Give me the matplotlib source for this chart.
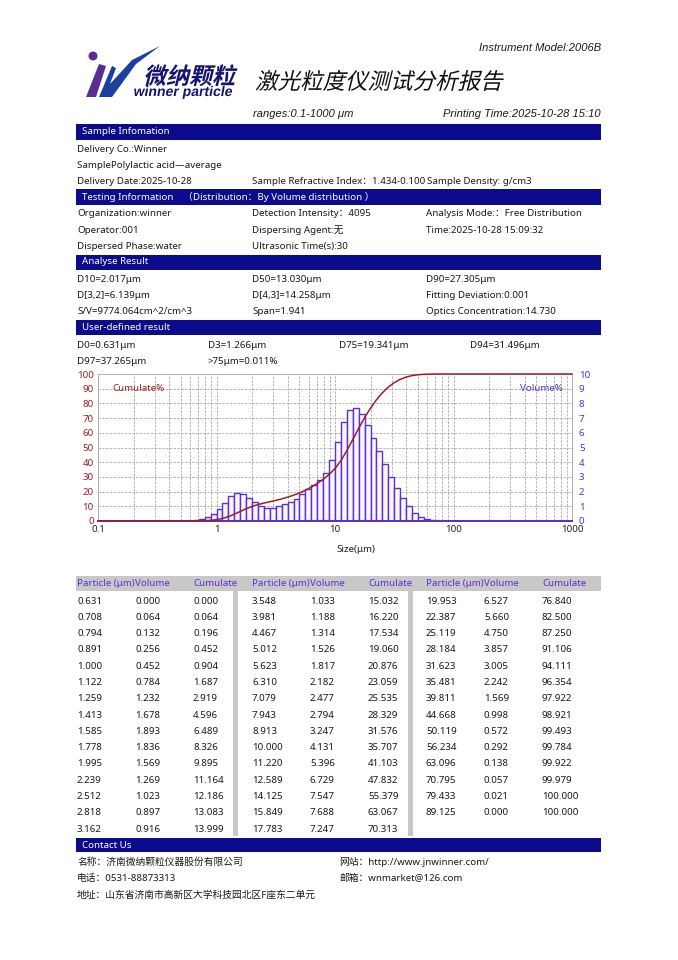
import numpy as np
import matplotlib
matplotlib.use('Agg')
import matplotlib.pyplot as plt
from matplotlib.patches import Rectangle, Polygon, Circle, PathPatch
from matplotlib.textpath import TextPath
from matplotlib.font_manager import FontProperties
from matplotlib.transforms import Affine2D
from matplotlib.ticker import MultipleLocator, LogLocator, FixedLocator, NullFormatter

# ---- data ----
sizes = [0.631, 0.708, 0.794, 0.891, 1.000, 1.122, 1.259, 1.413, 1.585, 1.778,
         1.995, 2.239, 2.512, 2.818, 3.162, 3.548, 3.981, 4.467, 5.012, 5.623,
         6.310, 7.079, 7.943, 8.913, 10.000, 11.220, 12.589, 14.125, 15.849, 17.783,
         19.953, 22.387, 25.119, 28.184, 31.623, 35.481, 39.811, 44.668, 50.119, 56.234,
         63.096, 70.795, 79.433, 89.125]
volume = [0.000, 0.064, 0.132, 0.256, 0.452, 0.784, 1.232, 1.678, 1.893, 1.836,
          1.569, 1.269, 1.023, 0.897, 0.916, 1.033, 1.188, 1.314, 1.526, 1.817,
          2.182, 2.477, 2.794, 3.247, 4.131, 5.396, 6.729, 7.547, 7.688, 7.247,
          6.527, 5.660, 4.750, 3.857, 3.005, 2.242, 1.569, 0.998, 0.572, 0.292,
          0.138, 0.057, 0.021, 0.000]
cumulate = [0.000, 0.064, 0.196, 0.452, 0.904, 1.687, 2.919, 4.596, 6.489, 8.326,
            9.895, 11.164, 12.186, 13.083, 13.999, 15.032, 16.220, 17.534, 19.060, 20.876,
            23.059, 25.535, 28.329, 31.576, 35.707, 41.103, 47.832, 55.379, 63.067, 70.313,
            76.840, 82.500, 87.250, 91.106, 94.111, 96.354, 97.922, 98.921, 99.493, 99.784,
            99.922, 99.979, 100.000, 100.000]
size_range = (0.1, 1000)
x_ticks = [0.1, 1, 10, 100, 1000]
x_tick_labels = ['0.1', '1', '10', '100', '1000']

sample_rows = [
    [('Delivery Co.:Winner', 77)],
    [('SamplePolylactic acid—average', 77)],
    [('Delivery Date:2025-10-28', 77), ('Sample Refractive Index：1.434-0.100', 252), ('Sample Density: g/cm3', 427)],
]
testing_rows = [
    [('Organization:winner', 77), ('Detection Intensity：4095', 252), ('Analysis Mode:：Free Distribution', 426)],
    [('Operator:001', 77), ('Dispersing Agent:无', 252), ('Time:2025-10-28 15:09:32', 426)],
    [('Dispersed Phase:water', 77), ('Ultrasonic Time(s):30', 252)],
]
result_rows = [
    [('D10=2.017μm', 77), ('D50=13.030μm', 252), ('D90=27.305μm', 426)],
    [('D[3,2]=6.139μm', 77), ('D[4,3]=14.258μm', 252), ('Fitting Deviation:0.001', 426)],
    [('S/V=9774.064cm^2/cm^3', 77), ('Span=1.941', 252), ('Optics Concentration:14.730', 426)],
]
user_rows = [
    [('D0=0.631μm', 77), ('D3=1.266μm', 208), ('D75=19.341μm', 339), ('D94=31.496μm', 470)],
    [('D97=37.265μm', 77), ('>75μm=0.011%', 208)],
]
contact_rows = [
    [('名称：济南微纳颗粒仪器股份有限公司', 77), ('网站：http://www.jnwinner.com/', 339)],
    [('电话：0531-88873313', 77), ('邮箱：wnmarket@126.com', 339)],
    [('地址：山东省济南市高新区大学科技园北区F座东二单元', 77)],
]

W, H = 678, 960
NAVY = '#0b0b8c'
RED = '#a01e1e'
PURPLE = '#5b2fd6'
GRID = '#a8a8a8'
FONT = ['Noto Sans', 'Noto Sans CJK SC', 'DejaVu Sans']
plt.rcParams['font.family'] = FONT
plt.rcParams['font.size'] = 7

fig = plt.figure(figsize=(W / 100, H / 100), dpi=100)
fig.patch.set_facecolor('white')


def T(x, y, s, **kw):
    kw.setdefault('va', 'center')
    kw.setdefault('color', '#1a1a1a')
    fig.text(x / W, 1 - y / H, s, **kw)


def band(y0, y1, color=NAVY, x0=76, x1=601):
    fig.patches.append(Rectangle((x0 / W, 1 - y1 / H), (x1 - x0) / W, (y1 - y0) / H,
                                 transform=fig.transFigure, color=color, lw=0, zorder=0))


def slanted(x, y, s, size, color, weight='normal', family='Noto Sans CJK SC', skew=14):
    tp = TextPath((0, 0), s, size=size, prop=FontProperties(family=family, weight=weight))
    tr = Affine2D().skew_deg(skew, 0).scale(1 / 100).translate(x / 100, (H - y) / 100) + fig.dpi_scale_trans
    fig.patches.append(PathPatch(tp, transform=tr, color=color, lw=0))


def rows(y_start, data, step=16.3):
    for i, row in enumerate(data):
        for s, x in row:
            T(x, y_start + i * step, s)


# ---- header ----
T(601, 48, 'Instrument Model:2006B', ha='right', family='Liberation Sans', style='italic', fontsize=8)
# logo marks
logo_tr = fig.dpi_scale_trans
def lp(pts):
    return [(px / 100, (H - py) / 100) for px, py in pts]
fig.patches.append(Polygon(lp([(86, 97), (99, 64), (106, 66), (96, 97)]), closed=True,
                           transform=logo_tr, color='#5a2d91', lw=0))
fig.patches.append(Circle((93 / 100, (H - 56) / 100), 0.045, transform=logo_tr, color='#5a2d91', lw=0))
fig.patches.append(Polygon(lp([(99, 97), (112, 66), (116, 68), (110, 84), (132, 60), (160, 46),
                               (136, 64), (112, 97)]), closed=True, transform=logo_tr, color='#1d3f9e', lw=0))
slanted(143, 84, '微纳颗粒', 23, '#15156e', weight='bold')
slanted(133, 96, 'winner particle', 14, '#15156e', weight='bold', family='Liberation Sans', skew=10)
slanted(255, 89, '激光粒度仪测试分析报告', 22.5, '#111111', weight='normal')
T(253, 114, 'ranges:0.1-1000 μm', family='Liberation Sans', style='italic', fontsize=8)
T(601, 114, 'Printing Time:2025-10-28 15:10', ha='right', family='Liberation Sans', style='italic', fontsize=8)

# ---- info sections ----
band(124, 140)
T(82, 132, 'Sample Infomation', color='white')
rows(149, sample_rows)
band(189, 205)
T(82, 197, 'Testing Information　（Distribution：By Volume distribution ）', color='white')
rows(214, testing_rows)
band(255, 270)
T(82, 262, 'Analyse Result', color='white')
rows(279, result_rows)
band(320, 335)
T(82, 327, 'User-defined result', color='white')
rows(345, user_rows)

# ---- chart: volume bars on the base axes (right scale), cumulate curve on the twin (left scale) ----
ax = fig.add_axes([98 / W, 1 - 521 / H, 474 / W, 147 / H])
ax2 = ax.twinx()

sz = np.array(sizes)
ax.bar(sz[:-1], volume[1:], width=np.diff(sz), align='edge',
       facecolor='#f8f6ff', edgecolor=PURPLE, linewidth=1.0, zorder=2)
ax.set_axisbelow(True)
ax.set_xscale('log')
ax.set_xlim(*size_range)
ax.set_ylim(0, 10)
ax.xaxis.set_major_locator(FixedLocator(x_ticks))
ax.set_xticklabels(x_tick_labels)
ax.xaxis.set_minor_locator(LogLocator(base=10, subs=np.arange(2, 10)))
ax.xaxis.set_minor_formatter(NullFormatter())
ax.yaxis.set_major_locator(MultipleLocator(1))
ax.grid(True, which='both', axis='x', color=GRID, linestyle=(0, (3, 1.5)), linewidth=0.6)
ax.grid(True, which='major', axis='y', color=GRID, linestyle=(0, (3, 1.5)), linewidth=0.6)
ax.yaxis.tick_right()
ax.tick_params(axis='both', which='both', length=0, labelsize=7)
ax.tick_params(axis='x', colors='#222222', pad=3)
ax.tick_params(axis='y', colors=PURPLE, pad=5)

cx = [size_range[0]] + sizes + [size_range[1]]
cy = [cumulate[0]] + cumulate + [cumulate[-1]]
ax2.plot(cx, cy, color=RED, linewidth=1.1, zorder=3, clip_on=False)
ax2.set_ylim(0, 100)
ax2.yaxis.set_major_locator(MultipleLocator(10))
ax2.yaxis.tick_left()
ax2.tick_params(axis='y', length=0, labelsize=7, colors=RED, pad=3)

for a in (ax, ax2):
    for side in ('top', 'left', 'right'):
        a.spines[side].set_color('#b0b0b0')
        a.spines[side].set_linewidth(0.6)
    a.spines['bottom'].set_color(PURPLE)
    a.spines['bottom'].set_linewidth(1.4)
ax2.text(0.03, 0.9, 'Cumulate%', transform=ax2.transAxes, color=RED, fontsize=7, va='center')
ax2.text(0.98, 0.9, 'Volume%', transform=ax2.transAxes, color=PURPLE, fontsize=7, va='center', ha='right')
T(336, 550, 'Size(μm)')

# ---- data table ----
band(576, 591, color='#c8c8c8')
band(591, 836, color='#c8c8c8', x0=233, x1=238)
band(591, 836, color='#c8c8c8', x0=408, x1=413)
col_x = [77, 252, 426]
per_col = 15
for g, gx in enumerate(col_x):
    T(gx, 584, 'Particle (μm)', color=PURPLE)
    T(gx + 58, 584, 'Volume', color=PURPLE)
    T(gx + 116, 584, 'Cumulate', color=PURPLE)
    for r in range(per_col):
        i = g * per_col + r
        if i >= len(sizes):
            break
        y = 601 + r * 16.3
        T(gx, y, f'{sizes[i]:.3f}')
        T(gx + 58, y, f'{volume[i]:.3f}')
        T(gx + 116, y, f'{cumulate[i]:.3f}')

# ---- contact ----
band(838, 852)
T(82, 845, 'Contact Us', color='white')
rows(862, contact_rows)

fig.savefig('out.png', dpi=100)
